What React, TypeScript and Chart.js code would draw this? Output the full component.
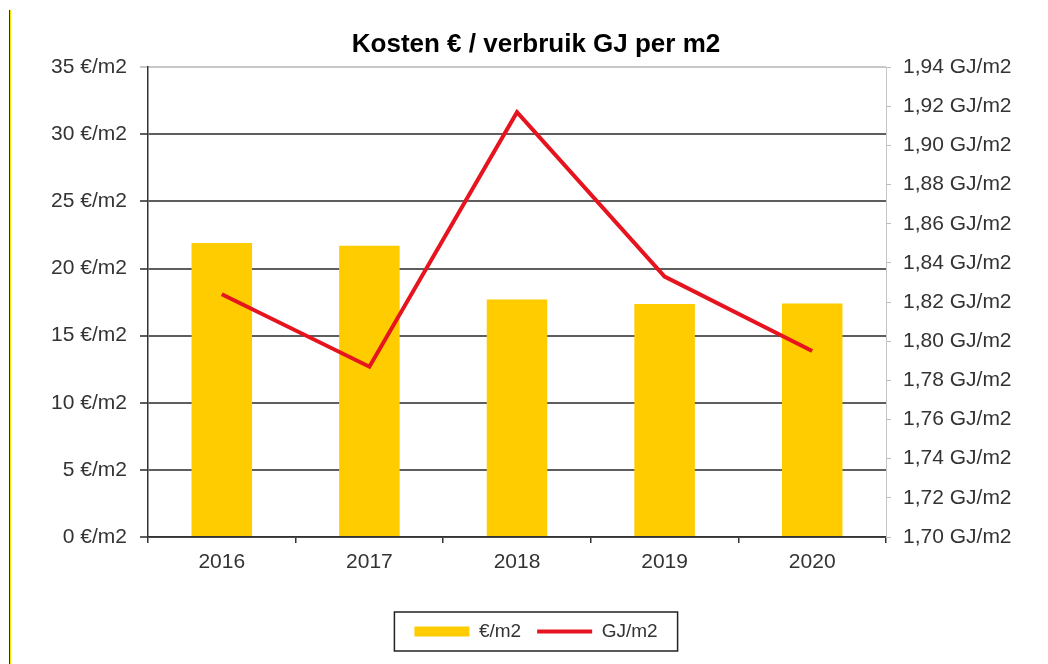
import React, { useEffect, useRef } from "react";
import { Chart, registerables } from "chart.js";

Chart.register(...registerables);

const categories = ["2016", "2017", "2018", "2019", "2020"];
const costPerM2 = [21.9, 21.7, 17.7, 17.35, 17.4];
const gjPerM2 = [1.824, 1.787, 1.917, 1.833, 1.795];
const titleText = "Kosten € / verbruik GJ per m2";
const costLabel = "€/m2";
const gjLabel = "GJ/m2";

const FONT = "'Liberation Sans', Arial, sans-serif";
const YELLOW = "#FFCC00";
const RED = "#E5141E";

const legendBorder = {
  id: "legendBorder",
  afterDraw(chart: any) {
    const lg = chart.legend;
    if (!lg || !lg.legendHitBoxes || !lg.legendHitBoxes.length) return;
    const hb = lg.legendHitBoxes;
    let l = Infinity, r = -Infinity, t = Infinity, b = -Infinity;
    hb.forEach((h: any) => {
      l = Math.min(l, h.left);
      r = Math.max(r, h.left + h.width);
      t = Math.min(t, h.top);
      b = Math.max(b, h.top + h.height);
    });
    const ctx = chart.ctx;
    ctx.save();
    ctx.strokeStyle = "#222";
    ctx.lineWidth = 1.5;
    ctx.strokeRect(l - 20, t - 10, r - l + 40, b - t + 20);
    ctx.restore();
  },
};

export default function App() {
  const ref = useRef<HTMLCanvasElement | null>(null);

  useEffect(() => {
    if (!ref.current) return;
    const chart = new Chart(ref.current, {
      type: "bar",
      data: {
        labels: categories,
        datasets: [
          {
            type: "bar",
            label: costLabel,
            data: costPerM2,
            backgroundColor: YELLOW,
            borderWidth: 0,
            yAxisID: "y",
            categoryPercentage: 1,
            barPercentage: 0.41,
            order: 2,
          } as any,
          {
            type: "line",
            label: gjLabel,
            data: gjPerM2,
            borderColor: RED,
            backgroundColor: RED,
            borderWidth: 4,
            pointRadius: 0,
            tension: 0,
            yAxisID: "y1",
            order: 1,
          } as any,
        ],
      },
      options: {
        animation: false,
        responsive: false,
        maintainAspectRatio: false,
        layout: { padding: { top: 0, bottom: 13, left: 24, right: 0 } },
        plugins: {
          tooltip: { enabled: false },
          title: {
            display: true,
            text: titleText,
            color: "#000",
            font: { family: FONT, size: 26, weight: "bold" },
            padding: { top: 29, bottom: 7 },
          },
          legend: {
            position: "bottom",
            labels: {
              color: "#333",
              font: { family: FONT, size: 19 },
              usePointStyle: true,
              pointStyleWidth: 55,
              boxWidth: 55,
              boxHeight: 10,
              padding: 16,
              sort: (a: any, b: any) => a.datasetIndex - b.datasetIndex,
              generateLabels: (chart: any) => {
                const items = Chart.defaults.plugins.legend.labels.generateLabels(chart);
                return items.map((it: any) => {
                  if (it.datasetIndex === 0) {
                    return { ...it, pointStyle: "rect", fillStyle: YELLOW, strokeStyle: YELLOW, lineWidth: 0 };
                  }
                  return { ...it, pointStyle: "line", strokeStyle: RED, fillStyle: RED, lineWidth: 4 };
                });
              },
            },
          },
        },
        scales: {
          x: {
            type: "category",
            offset: true,
            grid: {
              offset: true,
              drawOnChartArea: false,
              drawTicks: true,
              tickLength: 6,
              color: "#333",
              lineWidth: 1.5,
            },
            border: { color: "#333", width: 1.5 },
            ticks: { color: "#333", font: { family: FONT, size: 21 }, padding: 7 },
            afterFit: (s: any) => {
              s.height = 69;
            },
          },
          y: {
            type: "linear",
            position: "left",
            min: 0,
            max: 35,
            ticks: {
              stepSize: 5,
              color: "#333",
              font: { family: FONT, size: 21 },
              padding: 13,
              callback: (v: any) => `${v} €/m2`,
            },
            grid: {
              color: (ctx: any) => (ctx.tick && ctx.tick.value === 35 ? "#c8c8c8" : "#5e5e5e"),
              lineWidth: 2,
              tickLength: 8,
            },
            border: { color: "#333", width: 1.5 },
            afterFit: (s: any) => {
              s.width = 124;
            },
          },
          y1: {
            type: "linear",
            position: "right",
            min: 1.7,
            max: 1.94,
            ticks: {
              stepSize: 0.02,
              color: "#333",
              font: { family: FONT, size: 21 },
              padding: 12,
              callback: (v: any) => `${Number(v).toFixed(2).replace(".", ",")} GJ/m2`,
            },
            grid: {
              drawOnChartArea: false,
              color: "#bdbdbd",
              lineWidth: 1,
              tickLength: 5,
            },
            border: { color: "#c4c4c4", width: 1 },
            afterFit: (s: any) => {
              s.width = 162;
            },
          },
        },
      },
      plugins: [legendBorder],
    } as any);
    return () => chart.destroy();
  }, []);

  return (
    <div style={{ position: "fixed", left: 0, top: 0, width: 1048, height: 664, background: "#fff" }}>
      <div style={{ position: "absolute", left: 9, top: 10, width: 1, height: 654, background: "#333" }} />
      <div style={{ position: "absolute", left: 10, top: 10, width: 1, height: 654, background: "#f2e600" }} />
      <canvas ref={ref} width={1048} height={664} style={{ position: "absolute", left: 0, top: 0 }} />
    </div>
  );
}
